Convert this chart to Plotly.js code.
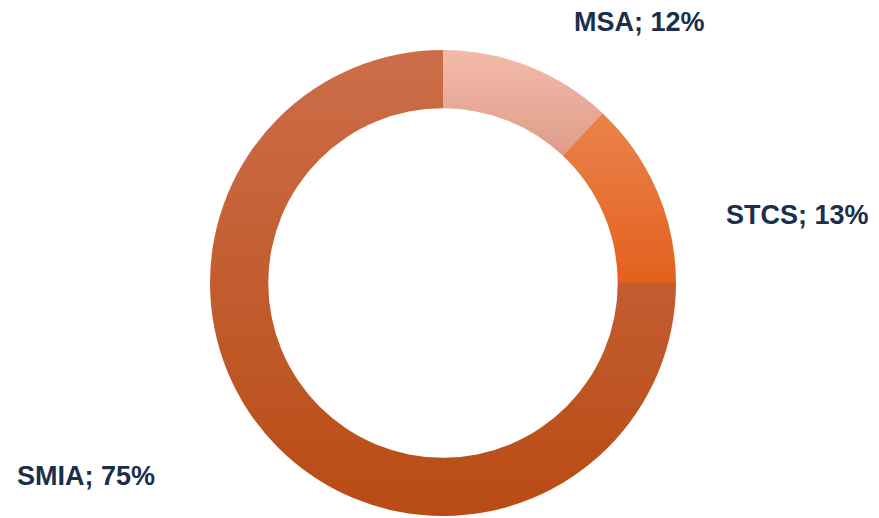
<!DOCTYPE html>
<html>
<head>
<meta charset="utf-8">
<script src="https://cdn.plot.ly/plotly-3.0.1.min.js"></script>
<style>html,body{margin:0;padding:0;background:#fff;}#chart{width:879px;height:518px;}</style>
</head>
<body>
<div id="chart"></div>
<script>
const categories = ["MSA", "STCS", "SMIA"];
const values = [12, 13, 75];
const colors = ["#F0AE9C", "#EA7030", "#C35A2A"];
const gradTop = ["#F4BBA9", "#E9834C", "#CC6E4A"];
const gradBottom = ["#DE9C8A", "#E4601E", "#B94B14"];
// label anchor positions in paper coords
const labelX = [0.728, 0.907, 0.098];
const labelY = [0.958, 0.585, 0.081];

const trace = {
  type: "pie",
  labels: categories,
  values: values,
  sort: false,
  direction: "clockwise",
  rotation: 0,
  hole: 0.75,
  textinfo: "none",
  hoverinfo: "skip",
  marker: { colors: colors, line: { color: "#ffffff", width: 0 } },
  domain: { x: [210/879, 676/879], y: [2/518, 468/518] },
  showlegend: false
};

const total = values.reduce((a, b) => a + b, 0);
const annotations = categories.map((c, i) => ({
  text: "<b>" + c + "; " + Math.round(values[i] / total * 100) + "%</b>",
  x: labelX[i], y: labelY[i], xref: "paper", yref: "paper",
  xanchor: "center", yanchor: "middle", showarrow: false,
  font: { family: "Liberation Sans, Arial, sans-serif", size: 27, color: "#1B2F4B" }
}));

const layout = {
  width: 879, height: 518,
  margin: { l: 0, r: 0, t: 0, b: 0 },
  paper_bgcolor: "#ffffff",
  annotations: annotations
};

Plotly.newPlot("chart", [trace], layout, { displayModeBar: false, staticPlot: true }).then(gd => {
  try {
    const svg = gd.querySelector("svg.main-svg");
    const ns = "http://www.w3.org/2000/svg";
    const defs = document.createElementNS(ns, "defs");
    categories.forEach((c, i) => {
      const g = document.createElementNS(ns, "linearGradient");
      g.setAttribute("id", "grad" + i);
      g.setAttribute("x1", "0"); g.setAttribute("y1", "0");
      g.setAttribute("x2", "0"); g.setAttribute("y2", "1");
      const s1 = document.createElementNS(ns, "stop");
      s1.setAttribute("offset", "0"); s1.setAttribute("stop-color", gradTop[i]);
      const s2 = document.createElementNS(ns, "stop");
      s2.setAttribute("offset", "1"); s2.setAttribute("stop-color", gradBottom[i]);
      g.appendChild(s1); g.appendChild(s2); defs.appendChild(g);
    });
    svg.insertBefore(defs, svg.firstChild);
    const slices = gd.querySelectorAll("g.slice path.surface");
    slices.forEach((p, i) => { p.style.fill = "url(#grad" + i + ")"; });
  } catch (e) {}
});
</script>
</body>
</html>
